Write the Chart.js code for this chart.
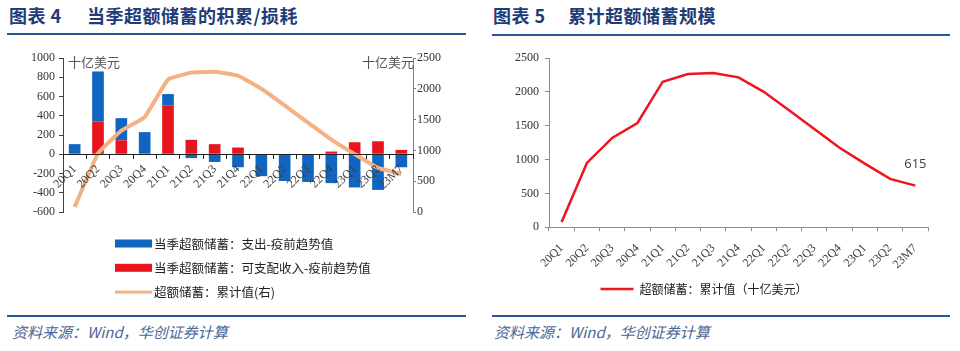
<!DOCTYPE html>
<html>
<head>
<meta charset="utf-8">
<script src="https://cdn.jsdelivr.net/npm/chart.js@4.4.0/dist/chart.umd.min.js"></script>
<style>
  body { margin: 0; width: 960px; height: 351px; background: #fff; overflow: hidden; position: relative; font-family: "Noto Sans CJK SC", sans-serif; }
  .title { position: absolute; top: 3px; font-size: 18px; line-height: 24px; font-weight: bold; color: #1e3c78; white-space: nowrap; letter-spacing: 0.5px; }
  .rule { position: absolute; height: 2px; background: #2a5699; }
  .source { position: absolute; top: 322px; font-size: 15px; line-height: 20px; font-style: italic; color: #4a6796; white-space: nowrap; }
  canvas { position: absolute; }
</style>
</head>
<body>
<div class="title" style="left:9px">图表 4</div>
<div class="title" style="left:87px">当季超额储蓄的积累/损耗</div>
<div class="rule" style="left:7px;width:459px;top:33px"></div>

<div class="title" style="left:493px">图表 5</div>
<div class="title" style="left:568px">累计超额储蓄规模</div>
<div class="rule" style="left:492px;width:458px;top:34px"></div>

<canvas id="flowChart" width="470" height="270" style="left:0;top:40px"></canvas>
<canvas id="stockChart" width="490" height="270" style="left:480px;top:40px"></canvas>

<div class="rule" style="left:7px;width:459px;top:315px"></div>
<div class="rule" style="left:492px;width:458px;top:315px"></div>
<div class="source" style="left:12px">资料来源：Wind，华创证券计算</div>
<div class="source" style="left:494px">资料来源：Wind，华创证券计算</div>

<script>
// values (十亿美元)
const quarters = ['20Q1', '20Q2', '20Q3', '20Q4', '21Q1', '21Q2', '21Q3', '21Q4',
                  '22Q1', '22Q2', '22Q3', '22Q4', '23Q1', '23Q2', '23M7'];
const incomeGap = [-8, 340, 145, 12, 505, 150, 105, 70, -18, -18, -3, 28, 125, 135, 45];
const spendingGap = [105, 520, 230, 218, 120, -40, -80, -135, -210, -260, -285, -300, -345, -370, -135];
const cumulative = [80, 950, 1320, 1540, 2150, 2263, 2278, 2214, 2000, 1730, 1450, 1175, 940, 715, 615];

const unitLabel = '十亿美元';
const BLUE = '#0f65c0';
const RED = '#e8141e';
const ORANGE = '#f4b183';
const LINE_RED = '#f0141e';

Chart.defaults.font.family = '"Liberation Serif", serif';
Chart.defaults.font.size = 12;
Chart.defaults.color = '#333';

const cjkFont = { family: '"Noto Sans CJK SC", sans-serif', size: 12 };
// plain numbers, no thousands separator
const plainTick = function(v) { return String(v); };

// unit captions plus a stacked legend (blue, red, line) under the left plot
const flowDecor = {
  id: 'flowDecor',
  afterDraw(chart) {
    const ctx = chart.ctx;
    const area = chart.chartArea;
    ctx.save();
    ctx.font = '13px "Noto Sans CJK SC"';
    ctx.fillStyle = '#555';
    ctx.textBaseline = 'middle';
    ctx.textAlign = 'left';
    ctx.fillText(unitLabel, area.left + 5, area.top + 4);
    ctx.textAlign = 'right';
    ctx.fillText(unitLabel, area.right + 1, area.top + 4);

    ctx.font = '12.5px "Noto Sans CJK SC"';
    ctx.textAlign = 'left';
    [1, 0, 2].forEach(function(idx, row) {
      const ds = chart.data.datasets[idx];
      const y = area.bottom + 31.5 + row * 24.3;
      if (ds.type === 'line') {
        ctx.fillStyle = ds.borderColor;
        ctx.fillRect(115, y - 1.5, 37, 3);
      } else {
        ctx.fillStyle = ds.backgroundColor;
        ctx.fillRect(115, y - 4, 37, 8);
      }
      ctx.fillStyle = '#222';
      ctx.fillText(ds.label, 154, y + 0.5);
    });
    ctx.restore();
  }
};

new Chart(document.getElementById('flowChart'), {
  data: {
    labels: quarters,
    datasets: [
      { type: 'bar', label: '当季超额储蓄：可支配收入-疫前趋势值', data: incomeGap,
        backgroundColor: RED, yAxisID: 'y', order: 1,
        categoryPercentage: 1, barPercentage: 0.5 },
      { type: 'bar', label: '当季超额储蓄：支出-疫前趋势值', data: spendingGap,
        backgroundColor: BLUE, yAxisID: 'y', order: 2,
        categoryPercentage: 1, barPercentage: 0.5 },
      { type: 'line', label: '超额储蓄：累计值(右)', data: cumulative,
        borderColor: ORANGE, backgroundColor: ORANGE, borderWidth: 4,
        pointRadius: 0, tension: 0.1, yAxisID: 'y1', order: 0 }
    ]
  },
  options: {
    responsive: false,
    animation: false,
    layout: { padding: { top: 18, bottom: 98 } },
    plugins: { legend: { display: false }, tooltip: { enabled: false } },
    scales: {
      x: {
        stacked: true,
        position: { y: 0 },
        grid: { drawOnChartArea: false, offset: true, tickLength: 4, color: '#222', z: 1 },
        border: { color: '#222', z: 1 },
        ticks: { minRotation: 45, maxRotation: 45, autoSkip: false, padding: 4, color: '#404040', z: 1 }
      },
      y: {
        stacked: true,
        min: -600, max: 1000,
        ticks: { stepSize: 200, padding: 4, callback: plainTick },
        grid: { drawOnChartArea: false, tickLength: 4, color: '#404040' },
        border: { color: '#404040' },
        afterFit: function(s) { s.width = 63; }
      },
      y1: {
        position: 'right',
        min: 0, max: 2500,
        ticks: { stepSize: 500, padding: 1, callback: plainTick },
        grid: { drawOnChartArea: false, tickLength: 3, color: '#808080' },
        border: { color: '#808080' },
        afterFit: function(s) { s.width = 57; }
      }
    }
  },
  plugins: [flowDecor]
});

// value label over the last point
const lastValueLabel = {
  id: 'lastValueLabel',
  afterDatasetsDraw(chart) {
    const meta = chart.getDatasetMeta(0);
    const values = chart.data.datasets[0].data;
    const pt = meta.data[meta.data.length - 1];
    const ctx = chart.ctx;
    ctx.save();
    ctx.font = '13px "Open Sans"';
    ctx.fillStyle = '#404040';
    ctx.textAlign = 'center';
    ctx.textBaseline = 'middle';
    ctx.fillText(String(values[values.length - 1]), pt.x, pt.y - 21);
    ctx.restore();
  }
};

new Chart(document.getElementById('stockChart'), {
  type: 'line',
  data: {
    labels: quarters,
    datasets: [{
      label: '超额储蓄：累计值（十亿美元）',
      data: cumulative,
      borderColor: LINE_RED, backgroundColor: LINE_RED,
      borderWidth: 2.5, pointRadius: 0, tension: 0
    }]
  },
  options: {
    responsive: false,
    animation: false,
    layout: { padding: { top: 18, right: 42, bottom: 5 } },
    plugins: {
      legend: {
        position: 'bottom',
        labels: { usePointStyle: true, pointStyle: 'line', pointStyleWidth: 33, padding: 10, font: cjkFont, color: '#222' }
      },
      tooltip: { enabled: false }
    },
    scales: {
      x: {
        offset: true,
        grid: { drawOnChartArea: false, offset: true, tickLength: 4, color: '#8c8c8c' },
        border: { color: '#8c8c8c' },
        ticks: { minRotation: 45, maxRotation: 45, autoSkip: false, padding: 10, color: '#404040' },
        afterFit: function(s) { s.height = 45.7; }
      },
      y: {
        min: 0, max: 2500,
        ticks: { stepSize: 500, padding: 6, callback: plainTick },
        grid: { drawOnChartArea: false, tickLength: 4, color: '#8c8c8c' },
        border: { color: '#8c8c8c' },
        afterFit: function(s) { s.width = 69; }
      }
    }
  },
  plugins: [lastValueLabel]
});
</script>
</body>
</html>
